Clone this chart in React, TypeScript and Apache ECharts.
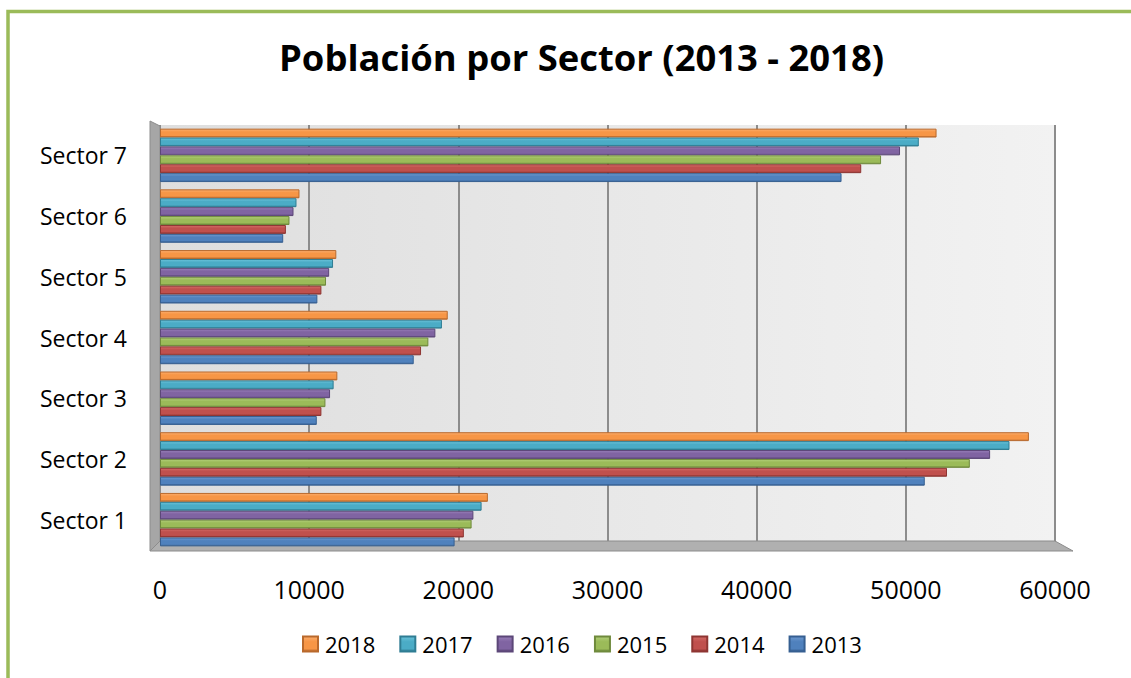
import React, { useEffect, useRef } from "react";
import * as echarts from "echarts";

const categories = ["Sector 1", "Sector 2", "Sector 3", "Sector 4", "Sector 5", "Sector 6", "Sector 7"];
const years = ["2018", "2017", "2016", "2015", "2014", "2013"];
const v2018 = [21980, 58250, 11890, 19290, 11820, 9350, 52060];
const v2017 = [21560, 56950, 11640, 18900, 11600, 9150, 50870];
const v2016 = [21010, 55650, 11400, 18460, 11340, 8950, 49610];
const v2015 = [20890, 54290, 11090, 17990, 11130, 8680, 48340];
const v2014 = [20370, 52760, 10820, 17500, 10820, 8440, 47010];
const v2013 = [19750, 51270, 10510, 17010, 10550, 8260, 45690];
const seriesValues = [v2018, v2017, v2016, v2015, v2014, v2013];
const xTicks = [0, 10000, 20000, 30000, 40000, 50000, 60000];

const colors = ["#F79646", "#4BACC6", "#8064A2", "#9BBB59", "#C0504D", "#4F81BD"];
const lightColors = ["#FBAE6E", "#6CC3DA", "#9A80BA", "#B2CF7A", "#D46C68", "#6F9AD0"];
const darkColors = ["#B9692C", "#2F7D93", "#5C4778", "#6F8A3C", "#8E3532", "#365F91"];

const FONT = "'Open Sans', 'Noto Sans', sans-serif";

export default function App() {
  const ref = useRef<HTMLDivElement>(null);
  useEffect(() => {
    if (!ref.current) return;
    const chart = echarts.init(ref.current, undefined, { renderer: "svg" });
    const series = years.map((y, i) => ({
      name: y,
      type: "bar",
      data: seriesValues[i],
      barGap: "0%",
      barCategoryGap: "12%",
      itemStyle: {
        color: new echarts.graphic.LinearGradient(0, 0, 0, 1, [
          { offset: 0, color: lightColors[i] },
          { offset: 0.35, color: colors[i] },
          { offset: 0.8, color: colors[i] },
          { offset: 1, color: darkColors[i] },
        ]),
        borderColor: darkColors[i],
        borderWidth: 1,
      },
      z: 3,
    }));
    chart.setOption({
      animation: false,
      backgroundColor: "#ffffff",
      title: {
        text: "Población por Sector (2013 - 2018)",
        left: 274,
        top: 34,
        textStyle: { fontFamily: FONT, fontWeight: "bold", fontSize: 36.4, color: "#000" },
      },
      legend: {
        data: years,
        bottom: 18,
        left: 297,
        itemWidth: 15,
        itemHeight: 15,
        itemGap: 24,
        icon: "rect",
        textStyle: { fontFamily: FONT, fontSize: 22, color: "#000", padding: [0, 0, 0, 2] },
      },
      grid: {
        left: 160,
        right: 76,
        top: 125,
        bottom: 128,
        show: true,
        borderWidth: 0,
        backgroundColor: new echarts.graphic.LinearGradient(0, 0, 1, 0, [
          { offset: 0, color: "#dedede" },
          { offset: 1, color: "#f2f2f2" },
        ]),
      },
      xAxis: {
        type: "value",
        min: 0,
        max: 60000,
        interval: 10000,
        axisLine: { show: false },
        axisTick: { show: false },
        axisLabel: {
          margin: 26,
          fontFamily: FONT,
          fontSize: 25,
          color: "#000",
          formatter: (v: number) => (xTicks.includes(v) ? String(v) : ""),
        },
        splitLine: { show: true, lineStyle: { color: "#8c8c8c", width: 2 } },
      },
      yAxis: {
        type: "category",
        data: categories,
        axisLine: { show: false },
        axisTick: { show: false },
        axisLabel: { margin: 33, fontFamily: FONT, fontSize: 23, color: "#000" },
      },
      graphic: [
        {
          type: "rect",
          shape: { x: 8, y: 11.5, width: 2000, height: 2000 },
          style: { fill: "none", stroke: "#9BBB59", lineWidth: 3.5 },
          z: 10,
        },
        {
          type: "polygon",
          shape: { points: [[150, 121], [160, 126], [160, 541], [150, 551]] },
          style: { fill: "#a6a6a6", stroke: "#8c8c8c", lineWidth: 1 },
          z: 1,
        },
        {
          type: "polygon",
          shape: { points: [[150, 551], [160, 541], [1055, 541], [1073, 551]] },
          style: { fill: "#b0b0b0", stroke: "#8c8c8c", lineWidth: 1 },
          z: 1,
        },
      ],
      series,
    });
    return () => chart.dispose();
  }, []);
  return (
    <div
      ref={ref}
      style={{ position: "absolute", left: 0, top: 0, width: 1131, height: 678 }}
    />
  );
}
